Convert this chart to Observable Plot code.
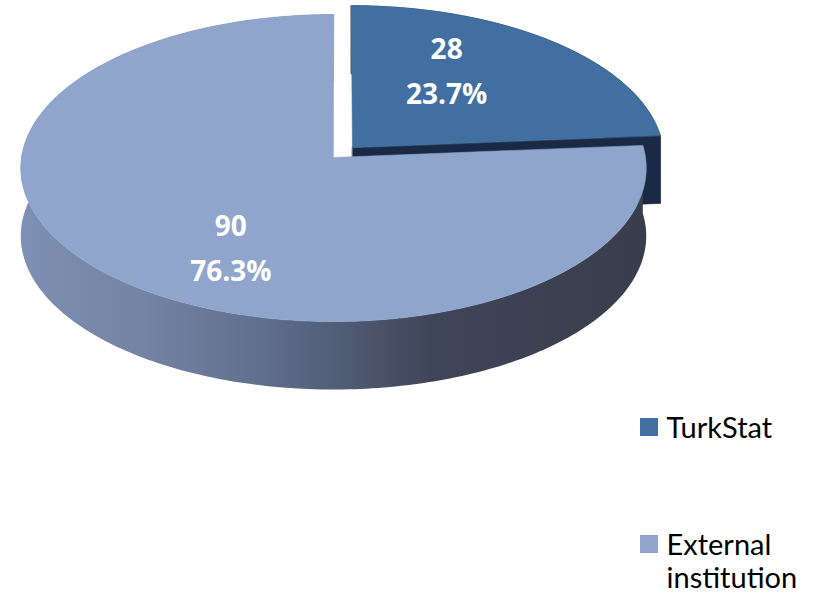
<!DOCTYPE html>
<html><head><meta charset="utf-8">
<script src="https://cdn.jsdelivr.net/npm/d3@7"></script>
<script src="https://cdn.jsdelivr.net/npm/@observablehq/plot@0.6"></script>
<style>html,body{margin:0;padding:0;background:#fff;overflow:hidden}</style>
</head><body><div id="chart"></div>
<script>
// ---- data ----
const categories = ["TurkStat", "External institution"];
const values = [28, 90];
const legendLabels = ["TurkStat", "External\ninstitution"];
const explode = [0.09, 0];

// ---- styles ----
const topColors = ["#416fa1", "#8fa5cc"];
const darkSide = "#1b2a44";

// ---- layout (3D projection of the pie) ----
const W = 814, H = 598;
const CX = 333, CY = 157, B = 312, A = 152.8, P = 0.0684, D = 68;
const LX = 0.467, LY = 0.745;
const LEG_X = 640, LEG_Y = 418, LEG_STEP = 117, SQ = 18;

const total = d3.sum(values);
const arcs = d3.pie().sort(null).value(d => d)(values);

function proj(u, v, dz = 0) {
  const s = 1 / (1 + P * v);
  return {x: CX + B * u * s, y: CY - A * v * s + dz};
}
function pt(i, theta, f, dz = 0) {
  const a = arcs[i], mid = (a.startAngle + a.endAngle) / 2, e = explode[i];
  return proj(f * Math.sin(theta) + e * Math.sin(mid), f * Math.cos(theta) + e * Math.cos(mid), dz);
}
function arcPts(i, dz = 0) {
  const a = arcs[i];
  const n = Math.max(4, Math.ceil((a.endAngle - a.startAngle) / (Math.PI / 180)));
  return d3.range(n + 1).map(k => pt(i, a.startAngle + (a.endAngle - a.startAngle) * k / n, 1, dz));
}
const topFace = i => [pt(i, 0, 0), ...arcPts(i)];
const wall = i => [...arcPts(i), ...arcPts(i, D).reverse()];
const radialEnd = i => {
  const a = arcs[i];
  return [pt(i, 0, 0), pt(i, a.endAngle, 1), pt(i, a.endAngle, 1, D), pt(i, 0, 0, D)];
};

const labels = arcs.map((a, i) => {
  const mid = (a.startAngle + a.endAngle) / 2, e = explode[i];
  const p = proj(LX * Math.sin(mid) + e * Math.sin(mid), LY * Math.cos(mid) + e * Math.cos(mid));
  return {x: p.x, y: p.y, text: `${values[i]}\n${(values[i] / total * 100).toFixed(1)}%`};
});

const legend = categories.map((c, i) => ({
  name: c, label: legendLabels[i], color: topColors[i],
  x1: LEG_X, x2: LEG_X + SQ, y1: LEG_Y + i * LEG_STEP, y2: LEG_Y + i * LEG_STEP + SQ
}));

const poly = (pts, fill, stroke) => Plot.line(pts, {x: "x", y: "y", fill, stroke: stroke || "none", strokeWidth: 0.6, curve: "linear-closed"});

const svg = Plot.plot({
  width: W, height: H, margin: 0,
  style: {background: "white", fontFamily: "Lato, 'Open Sans', sans-serif"},
  x: {domain: [0, W], range: [0, W], axis: null},
  y: {domain: [0, H], range: [0, H], axis: null},
  marks: [
    // TurkStat slice (exploded, behind)
    poly(wall(0), darkSide, darkSide),
    poly(radialEnd(0), darkSide, darkSide),
    poly(topFace(0), topColors[0], topColors[0]),
    // External institution slice
    poly(wall(1), "url(#wallGrad)"),
    poly(topFace(1), topColors[1], topColors[1]),
    // data labels
    Plot.text(labels, {x: "x", y: "y", text: "text", fill: "white", fontSize: 28, fontWeight: "bold",
      fontFamily: "'Open Sans'", lineHeight: 1.6, textAnchor: "middle", lineAnchor: "middle"}),
    // legend
    Plot.rect(legend, {x1: "x1", x2: "x2", y1: "y1", y2: "y2", fill: "color"}),
    Plot.text(legend, {x: d => d.x2 + 8, y: d => d.y1 - 3.5, text: "label", fill: "black", fontSize: 29,
      fontFamily: "Lato", lineHeight: 1.12, textAnchor: "start", lineAnchor: "top"})
  ],
  color: {type: "identity"}
});

const ns = "http://www.w3.org/2000/svg";
const defs = document.createElementNS(ns, "defs");
const g = document.createElementNS(ns, "linearGradient");
g.setAttribute("id", "wallGrad");
g.setAttribute("gradientUnits", "userSpaceOnUse");
g.setAttribute("x1", CX - B); g.setAttribute("x2", CX + B);
g.setAttribute("y1", 0); g.setAttribute("y2", 0);
[[0, "#7e90b3"], [0.2, "#7283a4"], [0.4, "#5f6d8b"], [0.55, "#4c566e"], [0.66, "#3f4558"], [1, "#393e4c"]]
  .forEach(([o, c]) => {
    const s = document.createElementNS(ns, "stop");
    s.setAttribute("offset", o); s.setAttribute("stop-color", c);
    g.appendChild(s);
  });
defs.appendChild(g);
svg.insertBefore(defs, svg.firstChild);
document.getElementById("chart").appendChild(svg);
</script>
</body></html>
